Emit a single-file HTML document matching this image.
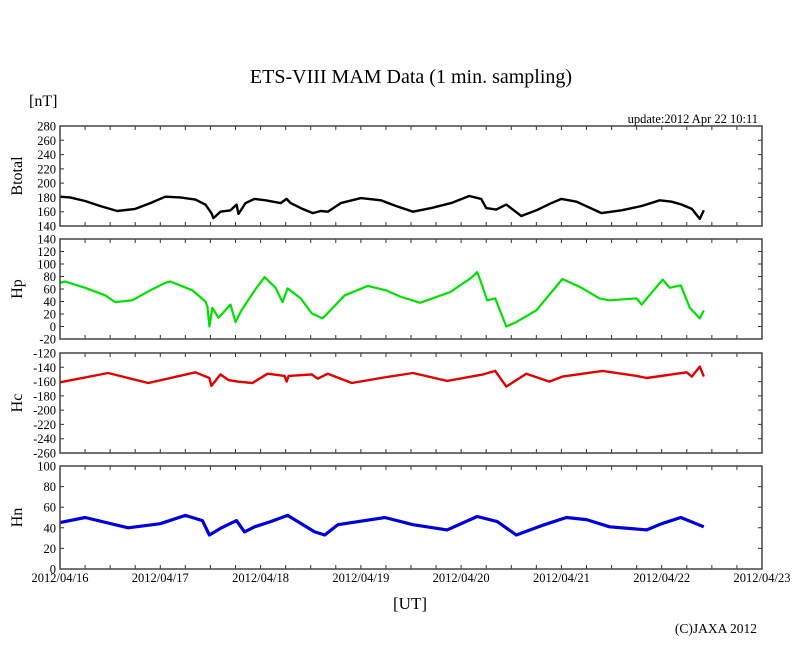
<!DOCTYPE html>
<html><head><meta charset="utf-8"><style>
body{margin:0;background:#fff}
svg{display:block;font-family:"Liberation Serif",serif}
</style></head><body>
<svg id="c" width="810" height="655" xmlns="http://www.w3.org/2000/svg">
<text x="411" y="83" text-anchor="middle" font-size="20">ETS-VIII MAM Data (1 min. sampling)</text>
<text x="29" y="106" font-size="16">[nT]</text>
<text x="758" y="123" text-anchor="end" font-size="12.5">update:2012 Apr 22 10:11</text>
<text x="410" y="609" text-anchor="middle" font-size="17">[UT]</text>
<text x="757" y="633" text-anchor="end" font-size="13.5">(C)JAXA 2012</text>
</svg>
<script>
const dayLabels=["2012/04/16","2012/04/17","2012/04/18","2012/04/19","2012/04/20","2012/04/21","2012/04/22","2012/04/23"];
const btT=[0,0.1,0.25,0.4,0.57,0.75,0.9,1.05,1.2,1.35,1.45,1.51,1.53,1.6,1.7,1.76,1.78,1.85,1.94,2.05,2.2,2.26,2.3,2.4,2.52,2.6,2.67,2.8,3.0,3.2,3.35,3.52,3.7,3.9,4.08,4.2,4.25,4.35,4.45,4.6,4.75,4.9,5.0,5.15,5.4,5.6,5.8,5.98,6.1,6.2,6.3,6.38,6.42];
const btV=[181,180,175,168,161,164,172,181,180,177,170,158,151,160,162,170,157,172,178,176,172,178,172,165,158,161,160,172,179,176,168,160,165,172,182,178,165,163,170,154,162,172,178,174,158,162,168,176,174,170,164,150,162];
const hpT=[0,0.05,0.25,0.45,0.55,0.72,0.9,1.05,1.1,1.32,1.45,1.47,1.49,1.52,1.58,1.7,1.75,1.81,1.95,2.04,2.15,2.22,2.27,2.4,2.51,2.62,2.84,3.07,3.25,3.39,3.59,3.89,4.1,4.16,4.2,4.26,4.34,4.45,4.55,4.75,5.01,5.2,5.38,5.48,5.75,5.8,6.01,6.08,6.19,6.28,6.38,6.42];
const hpV=[70,72,62,50,39,42,58,70,72,58,40,32,0,30,14,35,7,26,60,79,62,39,61,45,21,13,50,65,58,48,38,55,78,87,70,42,45,0,7,26,76,62,45,42,45,35,75,62,66,30,13,26];
const hcT=[0,0.48,0.88,1.35,1.49,1.51,1.6,1.68,1.77,1.92,2.07,2.24,2.26,2.28,2.51,2.57,2.67,2.91,3.2,3.52,3.86,4.22,4.34,4.45,4.65,4.88,5.01,5.41,5.75,5.85,6.1,6.25,6.3,6.38,6.42];
const hcV=[-161,-148,-162,-147,-155,-166,-150,-158,-160,-162,-149,-152,-160,-152,-150,-156,-149,-162,-155,-148,-159,-150,-145,-167,-149,-160,-153,-145,-152,-155,-150,-147,-153,-139,-153];
const hnT=[0,0.25,0.68,1.0,1.25,1.42,1.49,1.61,1.76,1.84,1.94,2.1,2.27,2.54,2.64,2.77,3.04,3.24,3.52,3.86,4.16,4.36,4.55,4.8,5.05,5.25,5.48,5.85,6.0,6.19,6.42];
const hnV=[45,50,40,44,52,47,33,40,47,36,41,46,52,36,33,43,47,50,43,38,51,46,33,42,50,48,41,38,44,50,41];

const svg=document.getElementById('c');
const NS="http://www.w3.org/2000/svg";
const X0=60,X1=762;
const xs=d=>X0+(X1-X0)*d/7;
function mk(tag,attrs,parent){const e=document.createElementNS(NS,tag);for(const k in attrs)e.setAttribute(k,attrs[k]);(parent||svg).appendChild(e);return e;}
const panels=[
 {name:'btotal',title:'Btotal',top:126,bot:226,min:140,max:280,step:20,t:btT,v:btV,color:'#000',w:2.4},
 {name:'hp',title:'Hp',top:239,bot:339,min:-20,max:140,step:20,t:hpT,v:hpV,color:'#00e000',w:2.2},
 {name:'hc',title:'Hc',top:353,bot:453,min:-260,max:-120,step:20,t:hcT,v:hcV,color:'#e00000',w:2.4},
 {name:'hn',title:'Hn',top:466,bot:569,min:0,max:100,step:20,t:hnT,v:hnV,color:'#0000dd',w:3.2}
];
panels.forEach(p=>{
 const g=mk('g',{});
 
 
 const ys=v=>p.bot-(v-p.min)/(p.max-p.min)*(p.bot-p.top);
 let d='';
 for(let v=p.min;v<=p.max+1e-6;v+=p.step){const y=ys(v);d+=`M${X0},${y}h4M${X1},${y}h-4`;
  const t=mk('text',{x:X0-4,y:y+4.5,'text-anchor':'end','font-size':12.5},g);t.textContent=v;
  
  }
 for(let q=1;q<28;q++){const x=xs(q/4);d+=`M${x},${p.top}v4M${x},${p.bot}v-4`;}
 const tk=mk('path',{d:d,stroke:'#333','stroke-width':1,fill:'none'},g);
 
 
 let pd='';p.t.forEach((t,i)=>{pd+=(i?'L':'M')+xs(t).toFixed(1)+','+ys(p.v[i]).toFixed(1);});
 const ln=mk('path',{d:pd,stroke:p.color,'stroke-width':p.w,fill:'none','stroke-linejoin':'round'},g);
 
 
 const fr=mk('rect',{x:X0,y:p.top,width:X1-X0,height:p.bot-p.top,fill:'none',stroke:'#444','stroke-width':1.5},g);
 
 
 const cy=(p.top+p.bot)/2;
 const tt=mk('text',{x:22,y:cy,'text-anchor':'middle','font-size':16,transform:`rotate(-90 22 ${cy})`},g);
 tt.textContent=p.title;
 
 
});
dayLabels.forEach((l,i)=>{
 const t=mk('text',{x:xs(i),y:582,'text-anchor':'middle','font-size':12.5});
 t.textContent=l;
 
 
});
</script>
</body></html>
